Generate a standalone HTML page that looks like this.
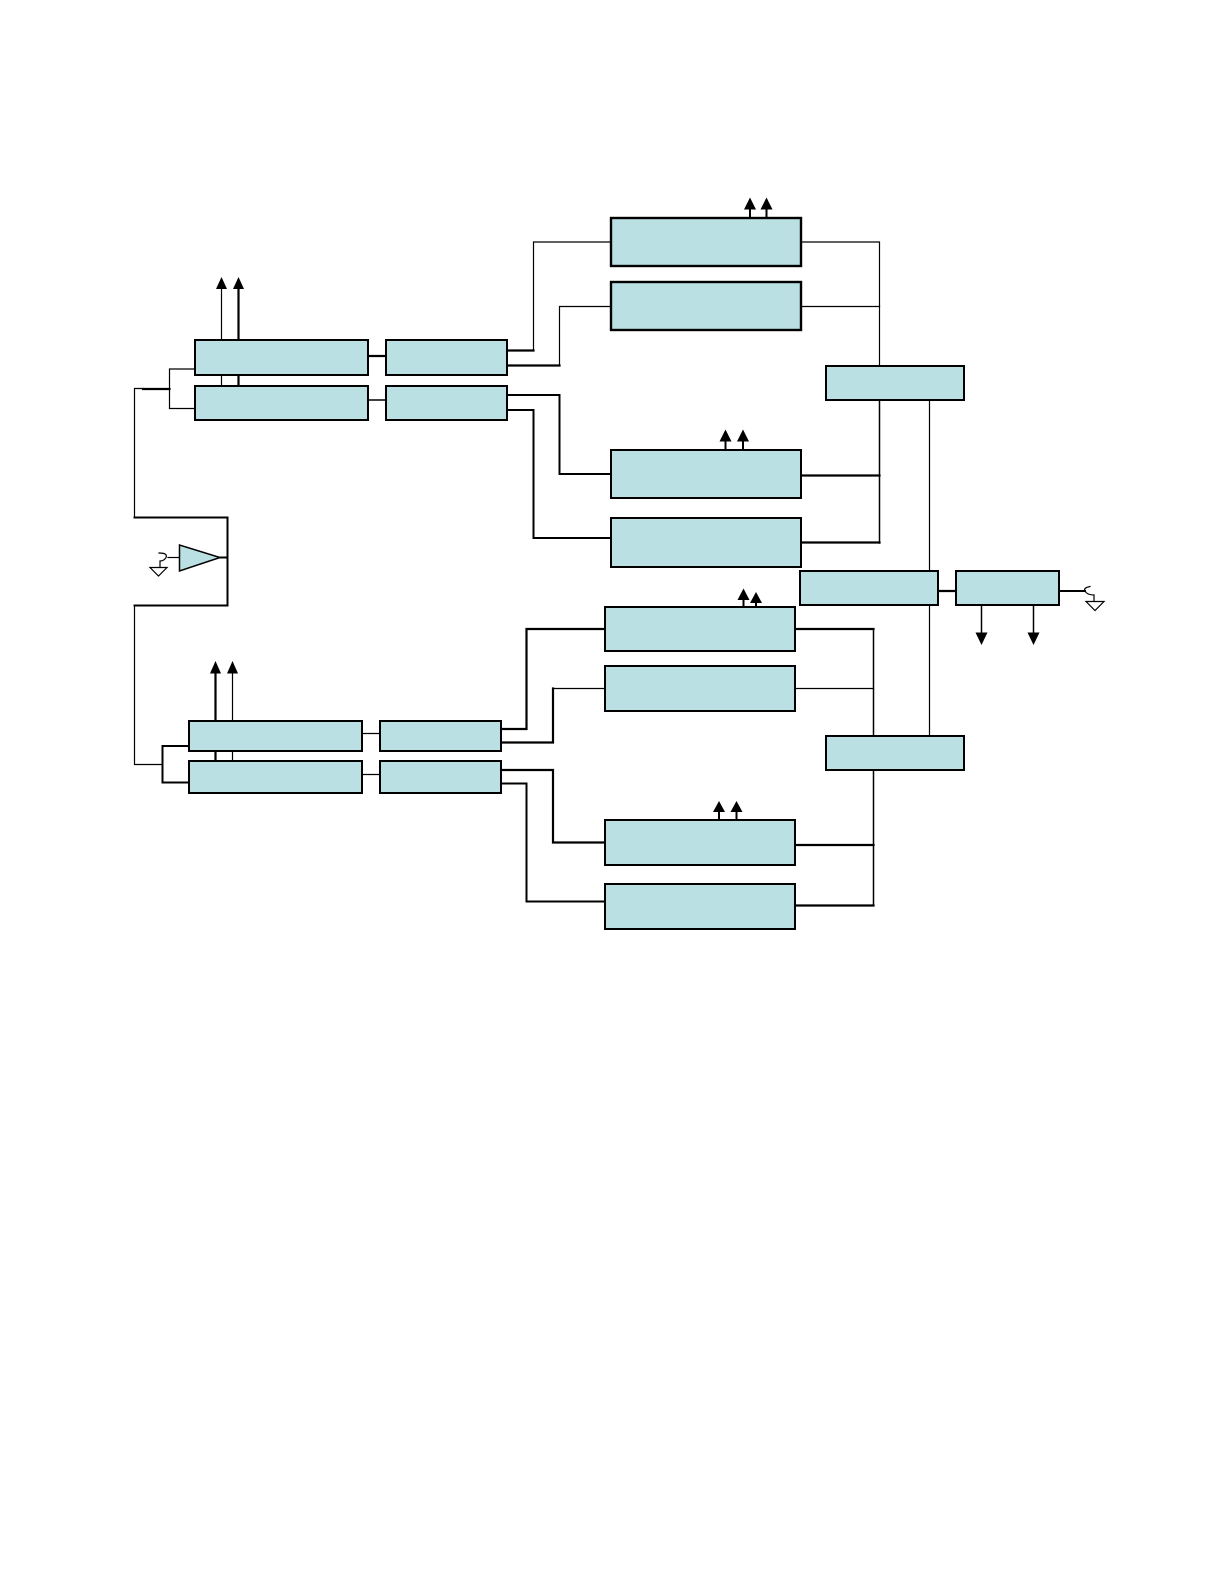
<!DOCTYPE html>
<html>
<head>
<meta charset="utf-8">
<style>
html,body{margin:0;padding:0;background:#fff;}
svg{display:block;}
</style>
</head>
<body>
<svg width="1225" height="1585" viewBox="0 0 1225 1585" xmlns="http://www.w3.org/2000/svg">
<rect width="1225" height="1585" fill="#fff"/>
<g fill="none" stroke="#000" stroke-linecap="square">
  <!-- left feed lines -->
  <polyline points="134.5,517.5 134.5,388.5 143,388.5" stroke-width="1.2"/>
  <line x1="143" y1="389" x2="169.5" y2="389" stroke-width="2.2"/>
  <polyline points="195,369 169.5,369 169.5,408.5 195,408.5" stroke-width="1.2"/>
  <polyline points="134.5,517.5 227.5,517.5 227.5,605.5 134.5,605.5" stroke-width="2"/>
  <polyline points="134.5,605.5 134.5,764.5 162.5,764.5" stroke-width="1.2"/>
  <polyline points="189,746 162.5,746 162.5,782.5 189,782.5" stroke-width="2"/>
  <line x1="162.5" y1="764.5" x2="162.5" y2="746" stroke-width="2"/>
  <line x1="220" y1="557.5" x2="227.5" y2="557.5" stroke-width="2"/>
  <line x1="168" y1="557.5" x2="179" y2="557.5" stroke-width="1.2"/>

  <!-- top-left arrow stems -->
  <line x1="221.5" y1="288" x2="221.5" y2="386" stroke-width="1.2"/>
  <line x1="238.5" y1="288" x2="238.5" y2="386" stroke-width="2.2"/>
  <!-- A-B connectors -->
  <line x1="369" y1="356" x2="385" y2="356" stroke-width="2.2"/>
  <line x1="369" y1="400" x2="385" y2="400" stroke-width="1.5"/>

  <!-- upper B outputs -->
  <polyline points="508,350.5 533.5,350.5" stroke-width="2.2"/>
  <polyline points="533.5,350.5 533.5,242 610,242" stroke-width="1.2"/>
  <polyline points="508,365.5 559.5,365.5" stroke-width="2.2"/>
  <polyline points="559.5,365.5 559.5,306.5 610,306.5" stroke-width="1.2"/>
  <polyline points="508,395 559.5,395 559.5,474 610,474" stroke-width="2"/>
  <polyline points="508,410 533.5,410 533.5,538 610,538" stroke-width="2"/>

  <!-- upper right combiner -->
  <polyline points="802,242 879.5,242 879.5,306.5 802,306.5" stroke-width="1.2"/>
  <line x1="879.5" y1="306" x2="879.5" y2="366" stroke-width="1.2"/>
  <line x1="879.5" y1="400" x2="879.5" y2="543" stroke-width="1.5"/>
  <line x1="802" y1="475.5" x2="879.5" y2="475.5" stroke-width="2.2"/>
  <line x1="802" y1="542.5" x2="879.5" y2="542.5" stroke-width="2.2"/>

  <!-- vertical between C1 and C2 -->
  <line x1="929.5" y1="400" x2="929.5" y2="736" stroke-width="1.2"/>

  <!-- D1-D2 connector and output -->
  <line x1="938" y1="591" x2="956" y2="591" stroke-width="2.2"/>
  <line x1="1059" y1="591" x2="1085" y2="591" stroke-width="2"/>
  <line x1="981.5" y1="605" x2="981.5" y2="633" stroke-width="1.5"/>
  <line x1="1033.5" y1="605" x2="1033.5" y2="633" stroke-width="1.5"/>

  <!-- lower left arrows stems -->
  <line x1="215.5" y1="673" x2="215.5" y2="761" stroke-width="2.2"/>
  <line x1="232.5" y1="673" x2="232.5" y2="761" stroke-width="1.2"/>
  <!-- F-G connectors -->
  <line x1="362" y1="733.5" x2="380" y2="733.5" stroke-width="1.2"/>
  <line x1="362" y1="774.5" x2="380" y2="774.5" stroke-width="1.2"/>

  <!-- lower G outputs -->
  <polyline points="501,729 526.5,729 526.5,629 605,629" stroke-width="2.2"/>
  <polyline points="501,742.5 553,742.5 553,688.5" stroke-width="2.2"/>
  <line x1="553" y1="688.5" x2="605" y2="688.5" stroke-width="1.2"/>
  <polyline points="501,770 553,770 553,842.5 605,842.5" stroke-width="2.2"/>
  <polyline points="501,783.5 526.5,783.5 526.5,901.5 605,901.5" stroke-width="2"/>

  <!-- lower right combiner -->
  <line x1="795" y1="629" x2="873.5" y2="629" stroke-width="2.2"/>
  <line x1="795" y1="688.5" x2="873.5" y2="688.5" stroke-width="1.2"/>
  <line x1="873.5" y1="629" x2="873.5" y2="905.5" stroke-width="1.5"/>
  <line x1="795" y1="845" x2="873.5" y2="845" stroke-width="2.2"/>
  <line x1="795" y1="905.5" x2="873.5" y2="905.5" stroke-width="2.2"/>

  <!-- small arrow stems on big boxes -->
  <line x1="750" y1="208" x2="750" y2="218" stroke-width="2"/>
  <line x1="766.5" y1="208" x2="766.5" y2="218" stroke-width="2"/>
  <line x1="725.5" y1="440" x2="725.5" y2="450" stroke-width="2"/>
  <line x1="743" y1="440" x2="743" y2="450" stroke-width="2"/>
  <line x1="743.5" y1="599" x2="743.5" y2="607" stroke-width="2"/>
  <line x1="756" y1="602" x2="756" y2="607" stroke-width="2"/>
  <line x1="719" y1="811" x2="719" y2="820" stroke-width="2"/>
  <line x1="736.5" y1="811" x2="736.5" y2="820" stroke-width="2"/>

  <!-- ground symbols -->
  <path d="M159,553 Q168,553 166,557.5 Q164,561 160,561 L160,567" stroke-width="1.2"/>
  <polygon points="150,567.5 167,567.5 158.5,576" stroke-width="1.2"/>
  <path d="M1090,586.5 Q1083,588 1085,591 Q1087,595 1094,595 L1094,601" stroke-width="1.2"/>
  <polygon points="1086,601.5 1104,601.5 1095,610.5" stroke-width="1.2"/>
</g>

<!-- arrowheads -->
<g fill="#000" stroke="none">
  <polygon points="221.5,277 216,289 227,289"/>
  <polygon points="238.5,277 233,289 244,289"/>
  <polygon points="750,197.5 744,209.5 756,209.5"/>
  <polygon points="766.5,197.5 760.5,209.5 772.5,209.5"/>
  <polygon points="725.5,429.5 719.5,441.5 731.5,441.5"/>
  <polygon points="743,429.5 737,441.5 749,441.5"/>
  <polygon points="743.5,588.5 737.5,600 749.5,600"/>
  <polygon points="756,592 750,603 762,603"/>
  <polygon points="215.5,661 210,673.5 221,673.5"/>
  <polygon points="232.5,661 227,673.5 238,673.5"/>
  <polygon points="719,801 713,812 725,812"/>
  <polygon points="736.5,801 730.5,812 742.5,812"/>
  <polygon points="981.5,645 975.5,632.5 987.5,632.5"/>
  <polygon points="1033.5,645 1027.5,632.5 1039.5,632.5"/>
</g>

<!-- amplifier -->
<polygon points="179.5,545 179.5,571 220,557.5" fill="#bbe0e3" stroke="#000" stroke-width="1.5" stroke-linejoin="miter"/>

<!-- boxes -->
<g fill="#bbe0e3" stroke="#000" stroke-width="2">
  <rect x="195" y="340" width="173" height="35"/>
  <rect x="195" y="386" width="173" height="34"/>
  <rect x="386" y="340" width="121" height="35"/>
  <rect x="386" y="386" width="121" height="34"/>

  <rect x="611" y="218" width="190" height="48" stroke-width="2.4"/>
  <rect x="611" y="282" width="190" height="48" stroke-width="2.4"/>
  <rect x="826" y="366" width="138" height="34"/>
  <rect x="611" y="450" width="190" height="48"/>
  <rect x="611" y="518" width="190" height="49"/>

  <rect x="800" y="571" width="138" height="34"/>
  <rect x="956" y="571" width="103" height="34"/>

  <rect x="605" y="607" width="190" height="44"/>
  <rect x="605" y="666" width="190" height="45"/>
  <rect x="826" y="736" width="138" height="34"/>

  <rect x="189" y="721" width="173" height="30"/>
  <rect x="189" y="761" width="173" height="32"/>
  <rect x="380" y="721" width="121" height="30"/>
  <rect x="380" y="761" width="121" height="32"/>

  <rect x="605" y="820" width="190" height="45"/>
  <rect x="605" y="884" width="190" height="45"/>
</g>
</svg>
</body>
</html>
